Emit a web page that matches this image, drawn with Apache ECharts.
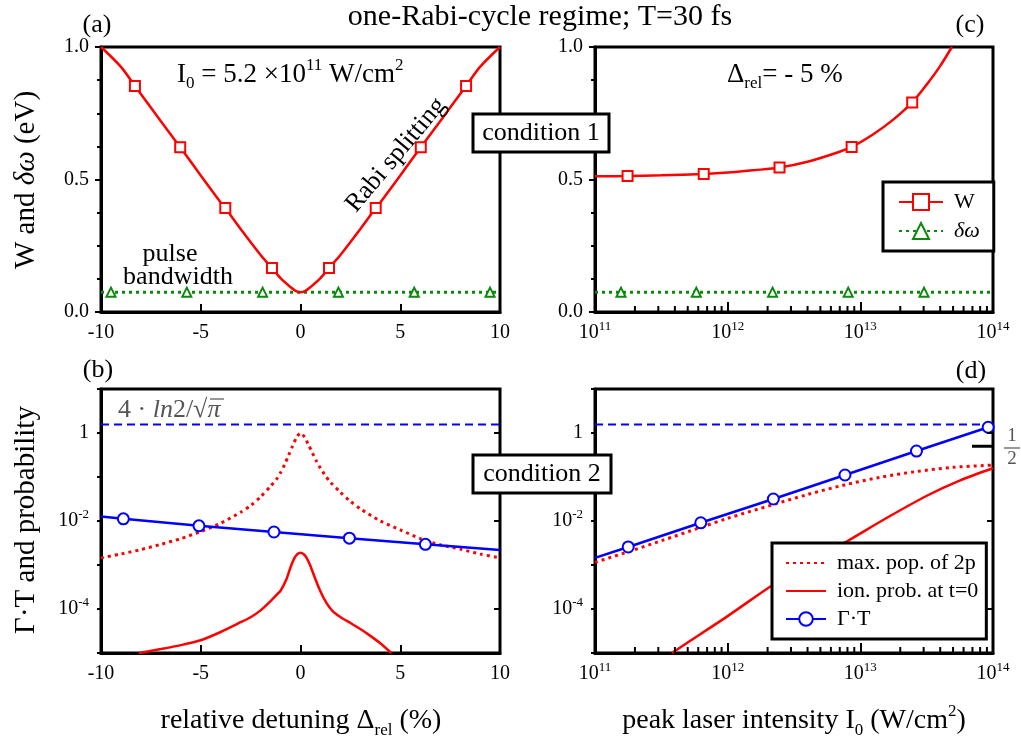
<!DOCTYPE html>
<html>
<head>
<meta charset="utf-8">
<script src="https://cdn.jsdelivr.net/npm/echarts@6/dist/echarts.min.js"></script>
<style>
  html, body { margin: 0; padding: 0; background: #fff; }
  #chart { width: 1021px; height: 742px; }
</style>
</head>
<body>
<div id="chart"></div>
<script>
// (a) Rabi splitting W vs detuning (%), I0 = 5.2e11
const detW = [-10, -9, -8.3, -7, -6.03, -5, -4, -3.77, -3, -2, -1.43, -1, -0.5, -0.25, 0, 0.25, 0.5, 1, 1.43, 2, 3, 3.77, 4, 5, 6.03, 7, 8.3, 9, 10]
const valW = [1.0, 0.925, 0.853, 0.72, 0.622, 0.515, 0.413, 0.392, 0.313, 0.215, 0.166, 0.128, 0.094, 0.08, 0.075, 0.08, 0.094, 0.128, 0.166, 0.215, 0.313, 0.392, 0.413, 0.515, 0.622, 0.72, 0.853, 0.925, 1.0]
const detWMarks = [-8.3, -6.03, -3.77, -1.43, 1.43, 3.77, 6.03, 8.3]
// pulse bandwidth (constant)
const detBw = [-10, -9.5, -5.7, -1.9, 1.9, 5.7, 9.5, 10]
const valBw = [0.075, 0.075, 0.075, 0.075, 0.075, 0.075, 0.075, 0.075]
const detBwMarks = [-9.5, -5.7, -1.9, 1.9, 5.7, 9.5]

// (c) W vs peak intensity, detuning -5 %
const intW = [1e11, 1.76e11, 3.16e11, 6.6e11, 1e12, 1.58e12, 2.46e12, 4e12, 6.3e12, 8.6e12, 1.26e13, 1.78e13, 2.46e13, 3.16e13, 3.98e13, 4.9e13]
const valWI = [0.512, 0.513, 0.516, 0.521, 0.526, 0.535, 0.545, 0.567, 0.597, 0.623, 0.672, 0.727, 0.791, 0.858, 0.927, 1.0]
const intWMarks = [1.76e11, 6.6e11, 2.46e12, 8.6e12, 2.46e13]
const intBw = [1e11, 1.57e11, 5.8e11, 2.18e12, 8.1e12, 3.02e13, 1e14]
const valBwI = [0.075, 0.075, 0.075, 0.075, 0.075, 0.075, 0.075]
const intBwMarks = [1.57e11, 5.8e11, 2.18e12, 8.1e12, 3.02e13]

// (b) probabilities vs detuning
const detPop = [-10, -9, -8, -7, -6, -5, -4, -3, -2.5, -2, -1.5, -1.2, -1, -0.8, -0.6, -0.4, -0.2, 0, 0.2, 0.4, 0.6, 0.8, 1, 1.2, 1.5, 2, 2.5, 3, 4, 5, 6, 7, 8, 9, 10]
const pop = [1.45e-3, 1.78e-3, 2.24e-3, 2.95e-3, 3.98e-3, 5.75e-3, 8.9e-3, 1.58e-2, 2.24e-2, 3.55e-2, 6.2e-2, 8.9e-2, 0.126, 0.19, 0.31, 0.5, 0.79, 1.0, 0.81, 0.54, 0.35, 0.23, 0.158, 0.115, 7.6e-2, 4.5e-2, 2.8e-2, 1.9e-2, 1.0e-2, 6.3e-3, 3.98e-3, 2.88e-3, 2.3e-3, 1.78e-3, 1.45e-3]
const detIon = [-8.1, -7, -6, -5, -4, -3, -2.5, -2, -1.5, -1.2, -1, -0.7, -0.5, -0.3, -0.15, 0, 0.15, 0.3, 0.5, 0.7, 1, 1.3, 1.6, 2, 2.5, 3, 3.5, 4, 4.55]
const ion = [1.0e-5, 1.23e-5, 1.51e-5, 1.95e-5, 3.0e-5, 5.0e-5, 6.5e-5, 9.3e-5, 1.51e-4, 2.1e-4, 2.6e-4, 4.8e-4, 8.9e-4, 1.45e-3, 1.78e-3, 1.9e-3, 1.78e-3, 1.48e-3, 9.5e-4, 5.4e-4, 2.5e-4, 1.38e-4, 9.1e-5, 6.6e-5, 4.8e-5, 3.5e-5, 2.45e-5, 1.66e-5, 1.0e-5]
const detGam = [-10, -8.88, -5.09, -1.33, 2.45, 6.26, 10]
const gam = [0.0126, 0.0112, 0.00776, 0.00562, 0.00407, 0.00295, 0.00219]
const detGamMarks = [-8.88, -5.09, -1.33, 2.45, 6.26]

// (d) probabilities vs peak intensity
const intPop = [1e11, 1.78e11, 3.16e11, 6.3e11, 1e12, 2.2e12, 4e12, 7.6e12, 1.4e13, 2.6e13, 5e13, 1e14]
const popI = [1.15e-3, 2.0e-3, 3.55e-3, 7.2e-3, 1.15e-2, 2.35e-2, 4.0e-2, 6.6e-2, 9.8e-2, 0.132, 0.166, 0.186]
const intIon = [3.8e11, 6.3e11, 1e12, 2.2e12, 4e12, 8e12, 1.6e13, 3.2e13, 5.6e13, 1e14]
const ionI = [1.0e-5, 2.75e-5, 6.9e-5, 3.55e-4, 1.05e-3, 3.5e-3, 1.2e-2, 3.8e-2, 8.3e-2, 0.158]
const intGam = [1e11, 1.78e11, 6.27e11, 2.21e12, 7.66e12, 2.65e13, 9.2e13]
const gamI = [1.45e-3, 2.57e-3, 9.1e-3, 3.16e-2, 0.111, 0.389, 1.35]
const intGamMarks = [1.78e11, 6.27e11, 2.21e12, 7.66e12, 2.65e13, 9.2e13]

const limit = 1.564 // 4 ln2 / sqrt(pi)
const half = 0.5
// labelled decades that also get a tick on the right edge of (b) and (d)
const rightTicks = [1, 1e-2, 1e-4]

const FONT = 'Liberation Serif'
const RED = '#ff0000'
const GREEN = '#0a8a0a'
const BLUE = '#0000ff'
const GREY = '#555'

function pts(xs, ys, marks) {
  return xs.map((x, i) => {
    const d = { value: [x, ys[i]] }
    if (!marks || marks.indexOf(x) < 0) d.symbol = 'none'
    return d
  })
}

function richSet(size, color) {
  const c = color || '#000'
  const lh = Math.round(size * 1.3)
  const small = Math.round(size * 0.62)
  return {
    n: { fontSize: size, fontFamily: FONT, fill: c, color: c, lineHeight: lh },
    i: { fontSize: size, fontFamily: FONT, fontStyle: 'italic', fill: c, color: c, lineHeight: lh },
    sub: { fontSize: small, fontFamily: FONT, fill: c, color: c, lineHeight: small, verticalAlign: 'bottom' },
    sup: { fontSize: small, fontFamily: FONT, fill: c, color: c, lineHeight: small, verticalAlign: 'top' }
  }
}

function txt(x, y, text, opt) {
  opt = opt || {}
  const size = opt.size || 26
  return {
    type: 'text', x: x, y: y, rotation: opt.rot || 0, z: 100,
    style: {
      text: text, fontSize: size, fontFamily: FONT, fill: opt.color || '#000',
      align: opt.align || 'center', verticalAlign: 'middle',
      rich: richSet(size, opt.color)
    }
  }
}

const tickRich = {
  b: { fontSize: 20, fontFamily: FONT, color: '#000', lineHeight: 26 },
  s: { fontSize: 13, fontFamily: FONT, color: '#000', lineHeight: 13, verticalAlign: 'top' }
}
function powLabel(v) {
  const e = Math.round(Math.log10(v))
  if (e === 0) return '{b|1}'
  return '{b|10}{s|' + e + '}'
}

function linX(gi) {
  return {
    gridIndex: gi, type: 'value', min: -10, max: 10, interval: 5,
    axisLine: { onZero: false, lineStyle: { color: '#000', width: 3 } },
    axisTick: { inside: true, length: 8, lineStyle: { color: '#000', width: 2 } },
    splitLine: { show: false },
    axisLabel: { fontSize: 20, fontFamily: FONT, color: '#000', margin: 11 }
  }
}
function logX(gi) {
  return {
    gridIndex: gi, type: 'log', logBase: 10, min: 1e11, max: 1e14,
    axisLine: { onZero: false, lineStyle: { color: '#000', width: 3 } },
    axisTick: { inside: true, length: 10, lineStyle: { color: '#000', width: 2 } },
    splitLine: { show: false },
    axisLabel: { formatter: powLabel, rich: tickRich, margin: 8 }
  }
}
function linY(gi) {
  return {
    gridIndex: gi, type: 'value', min: 0, max: 1, interval: 0.5,
    axisLine: { onZero: false, lineStyle: { color: '#000', width: 3 } },
    axisTick: { length: 6, lineStyle: { color: '#000', width: 2 } },
    minorTick: { show: true, splitNumber: 4, length: 4, lineStyle: { color: '#000', width: 2 } },
    splitLine: { show: false },
    axisLabel: { formatter: v => v.toFixed(1), fontSize: 20, fontFamily: FONT, color: '#000', margin: 12 }
  }
}
function logY(gi) {
  return {
    gridIndex: gi, type: 'log', logBase: 10, min: 1e-5, max: 10, splitNumber: 6,
    axisLine: { onZero: false, lineStyle: { color: '#000', width: 3 } },
    axisTick: { length: 4, lineStyle: { color: '#000', width: 2 } },
    splitLine: { show: false },
    axisLabel: {
      formatter: v => {
        const e = Math.round(Math.log10(v))
        return (e === 0 || e === -2 || e === -4) ? powLabel(v) : ''
      },
      rich: tickRich, margin: 12
    }
  }
}

// minor decade ticks along the bottom of the log x axes
const minorInt = []
for (let d = 11; d < 14; d++) {
  for (let m = 2; m <= 9; m++) minorInt.push(m * Math.pow(10, d))
}
function tickSeries(gi, yBase) {
  return {
    type: 'custom', xAxisIndex: gi, yAxisIndex: gi, silent: true, clip: false, z: 5,
    data: minorInt.map(x => [x, yBase]),
    renderItem: (params, api) => {
      const p = api.coord([api.value(0), api.value(1)])
      return { type: 'line', shape: { x1: p[0], y1: p[1], x2: p[0], y2: p[1] - 6 }, style: { stroke: '#000', lineWidth: 2 } }
    }
  }
}
// short inward ticks on the right edge of the lower panels
function rightTickSeries(gi, xEdge) {
  return {
    type: 'custom', xAxisIndex: gi, yAxisIndex: gi, silent: true, clip: false, z: 5,
    data: rightTicks.map(y => [xEdge, y]),
    renderItem: (params, api) => {
      const p = api.coord([api.value(0), api.value(1)])
      return { type: 'line', shape: { x1: p[0] - 6, y1: p[1], x2: p[0], y2: p[1] }, style: { stroke: '#000', lineWidth: 2 } }
    }
  }
}

const series = [
  // (a)
  { name: 'W', type: 'line', xAxisIndex: 0, yAxisIndex: 0, data: pts(detW, valW, detWMarks), smooth: 0.3,
    symbol: 'emptyRect', symbolSize: 10, lineStyle: { color: RED, width: 2.5 }, itemStyle: { color: RED, borderWidth: 2 }, z: 4 },
  { name: 'δω', type: 'line', xAxisIndex: 0, yAxisIndex: 0, data: pts(detBw, valBw, detBwMarks),
    symbol: 'emptyTriangle', symbolSize: 9, lineStyle: { color: GREEN, width: 3, type: [3, 4] }, itemStyle: { color: GREEN, borderWidth: 2 }, z: 3 },
  // (c)
  { name: 'W', type: 'line', xAxisIndex: 1, yAxisIndex: 1, data: pts(intW, valWI, intWMarks), smooth: 0.3,
    symbol: 'emptyRect', symbolSize: 10, lineStyle: { color: RED, width: 2.5 }, itemStyle: { color: RED, borderWidth: 2 }, z: 4 },
  { name: 'δω', type: 'line', xAxisIndex: 1, yAxisIndex: 1, data: pts(intBw, valBwI, intBwMarks),
    symbol: 'emptyTriangle', symbolSize: 9, lineStyle: { color: GREEN, width: 3, type: [3, 4] }, itemStyle: { color: GREEN, borderWidth: 2 }, z: 3 },
  tickSeries(1, 0),
  // (b)
  { type: 'line', xAxisIndex: 2, yAxisIndex: 2, data: [[-10, limit], [10, limit]], symbol: 'none',
    lineStyle: { color: BLUE, width: 2, type: [8, 5] }, silent: true },
  { name: 'max. pop. of 2p', type: 'line', xAxisIndex: 2, yAxisIndex: 2, data: pts(detPop, pop), smooth: 0.25,
    symbol: 'none', lineStyle: { color: RED, width: 3, type: [3, 4] }, itemStyle: { color: RED } },
  { name: 'ion. prob. at t=0', type: 'line', xAxisIndex: 2, yAxisIndex: 2, data: pts(detIon, ion), smooth: 0.2,
    symbol: 'none', lineStyle: { color: RED, width: 2.5 }, itemStyle: { color: RED } },
  { name: 'Γ·T', type: 'line', xAxisIndex: 2, yAxisIndex: 2, data: pts(detGam, gam, detGamMarks),
    symbol: 'emptyCircle', symbolSize: 11, lineStyle: { color: BLUE, width: 2.5 }, itemStyle: { color: BLUE, borderWidth: 2.5 }, z: 4 },
  rightTickSeries(2, 10),
  // (d)
  { type: 'line', xAxisIndex: 3, yAxisIndex: 3, data: [[1e11, limit], [1e14, limit]], symbol: 'none',
    lineStyle: { color: BLUE, width: 2, type: [8, 5] }, silent: true },
  { name: 'max. pop. of 2p', type: 'line', xAxisIndex: 3, yAxisIndex: 3, data: pts(intPop, popI), smooth: 0.3,
    symbol: 'none', lineStyle: { color: RED, width: 3, type: [3, 4] }, itemStyle: { color: RED } },
  { name: 'ion. prob. at t=0', type: 'line', xAxisIndex: 3, yAxisIndex: 3, data: pts(intIon, ionI), smooth: 0.3,
    symbol: 'none', lineStyle: { color: RED, width: 2.5 }, itemStyle: { color: RED } },
  { name: 'Γ·T', type: 'line', xAxisIndex: 3, yAxisIndex: 3, data: pts(intGam, gamI, intGamMarks),
    symbol: 'emptyCircle', symbolSize: 11, lineStyle: { color: BLUE, width: 2.5 }, itemStyle: { color: BLUE, borderWidth: 2.5 }, z: 4 },
  tickSeries(3, 1e-5),
  rightTickSeries(3, 1e14),
  // the 1/2 mark on the right edge of (d)
  { type: 'custom', xAxisIndex: 3, yAxisIndex: 3, silent: true, clip: false, z: 6, data: [[1e14, half]],
    renderItem: (params, api) => {
      const p = api.coord([api.value(0), api.value(1)])
      return { type: 'line', shape: { x1: p[0] - 21, y1: p[1], x2: p[0], y2: p[1] }, style: { stroke: '#000', lineWidth: 3 } }
    } }
]

const legendText = {
  fontFamily: FONT, fontSize: 22, color: '#000', lineHeight: 26, padding: [0, 0, 0, 6],
  rich: { i: { fontFamily: FONT, fontSize: 22, fontStyle: 'italic', color: '#000', lineHeight: 26 } }
}

const graphic = [
  txt(540, 17, 'one-Rabi-cycle regime; T=30 fs', { size: 30 }),
  txt(97, 25, '(a)'),
  txt(970, 25, '(c)'),
  txt(98, 370, '(b)'),
  txt(971, 371, '(d)'),
  txt(177, 75, '{n|I}{sub|0}{n| = 5.2 ×10}{sup|11}{n| W/cm}{sup|2}', { align: 'left', size: 27 }),
  txt(396, 155, 'Rabi splitting', { rot: 50 * Math.PI / 180 }),
  txt(170, 254, 'pulse'),
  txt(178, 277, 'bandwidth'),
  txt(727, 75, '{n|Δ}{sub|rel}{n|= - 5 %}', { align: 'left', size: 27 }),
  { type: 'rect', z: 99, shape: { x: 473, y: 114, width: 136, height: 38 }, style: { fill: '#fff', stroke: '#000', lineWidth: 3 } },
  txt(541, 133, 'condition 1'),
  { type: 'rect', z: 99, shape: { x: 473, y: 455, width: 138, height: 38 }, style: { fill: '#fff', stroke: '#000', lineWidth: 3 } },
  txt(542, 474, 'condition 2'),
  txt(118, 410, '{n|4 · }{i|ln}{n|2/√}{i|π}', { align: 'left', color: GREY }),
  { type: 'line', z: 100, shape: { x1: 210, y1: 399, x2: 224, y2: 399 }, style: { stroke: GREY, lineWidth: 1.2 } },
  txt(1012, 436, '1', { size: 19, color: GREY }),
  { type: 'line', z: 100, shape: { x1: 1004, y1: 448, x2: 1020, y2: 448 }, style: { stroke: GREY, lineWidth: 1.2 } },
  txt(1012, 459, '2', { size: 19, color: GREY }),
  txt(26, 180, '{n|W and }{i|δω}{n| (eV)}', { size: 29, rot: Math.PI / 2 }),
  txt(26, 520, 'Γ·T and probability', { size: 29, rot: Math.PI / 2 }),
  txt(301, 721, '{n|relative detuning Δ}{sub|rel}{n| (%)}', { size: 28 }),
  txt(794, 721, '{n|peak laser intensity I}{sub|0}{n| (W/cm}{sup|2}{n|)}', { size: 28 })
]

const chart = echarts.init(document.getElementById('chart'))
chart.setOption({
  animation: false,
  backgroundColor: '#fff',
  grid: [
    { left: 101, top: 47, width: 399, height: 265, show: true, borderColor: '#000', borderWidth: 3 },
    { left: 595, top: 47, width: 398, height: 265, show: true, borderColor: '#000', borderWidth: 3 },
    { left: 101, top: 389, width: 399, height: 264, show: true, borderColor: '#000', borderWidth: 3 },
    { left: 595, top: 389, width: 398, height: 264, show: true, borderColor: '#000', borderWidth: 3 }
  ],
  xAxis: [linX(0), logX(1), linX(2), logX(3)],
  yAxis: [linY(0), linY(1), logY(2), logY(3)],
  legend: [
    { data: ['W', 'δω'], orient: 'vertical', left: 883, top: 182, itemWidth: 44, itemHeight: 20, itemGap: 3,
      padding: [7, 14, 7, 15], backgroundColor: '#fff', borderColor: '#000', borderWidth: 3, z: 20,
      formatter: name => name === 'δω' ? '{i|δω}' : name, textStyle: legendText },
    { data: [
        { name: 'max. pop. of 2p', itemStyle: { opacity: 0 } },
        { name: 'ion. prob. at t=0', itemStyle: { opacity: 0 } },
        'Γ·T'
      ], orient: 'vertical', left: 772, top: 543, itemWidth: 40, itemHeight: 17, itemGap: 2,
      padding: [7, 8, 7, 13], backgroundColor: '#fff', borderColor: '#000', borderWidth: 3, z: 20, textStyle: legendText }
  ],
  graphic: graphic,
  series: series
})
</script>
</body>
</html>
